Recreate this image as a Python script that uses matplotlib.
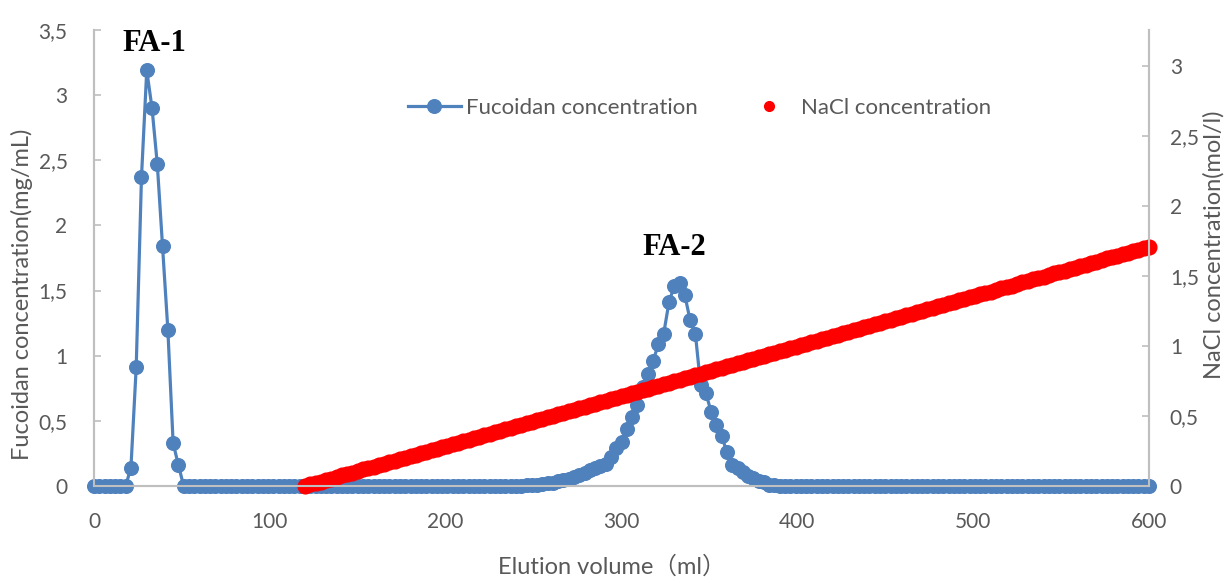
import numpy as np
import matplotlib.pyplot as plt
from matplotlib.ticker import FuncFormatter, MultipleLocator
from matplotlib.lines import Line2D

#%% Daten
# Fucoidan, eine Fraktion alle 3 ml (0 ... 600 ml)
volume = np.arange(0, 601, 3)
fucoidan = ([0] * 7
            + [0.14, 0.91, 2.37, 3.19, 2.9, 2.47, 1.84, 1.2, 0.33, 0.16]
            + [0] * 65
            + [0.005, 0.01, 0.01, 0.015, 0.02, 0.025, 0.035, 0.045, 0.055, 0.07,
               0.085, 0.10, 0.12, 0.135, 0.15, 0.17, 0.22, 0.29, 0.34, 0.44,
               0.53, 0.62, 0.76, 0.86, 0.96, 1.09, 1.17, 1.41, 1.535, 1.555,
               1.465, 1.275, 1.17, 0.775, 0.71, 0.57, 0.47, 0.38, 0.26, 0.16,
               0.14, 0.11, 0.08, 0.06, 0.04, 0.03, 0.01, 0.005]
            + [0] * 71)

# NaCl-Gradient ab 120 ml
volume_nacl = np.arange(120, 601, 3)
nacl = [0.000, 0.011, 0.021, 0.032, 0.043, 0.053, 0.064, 0.075, 0.086, 0.096,
        0.107, 0.118, 0.128, 0.139, 0.150, 0.160, 0.171, 0.182, 0.192, 0.203,
        0.214, 0.224, 0.235, 0.246, 0.257, 0.267, 0.278, 0.289, 0.299, 0.310,
        0.321, 0.331, 0.342, 0.353, 0.363, 0.374, 0.385, 0.395, 0.406, 0.417,
        0.428, 0.438, 0.449, 0.460, 0.470, 0.481, 0.492, 0.502, 0.513, 0.524,
        0.534, 0.545, 0.556, 0.566, 0.577, 0.588, 0.599, 0.609, 0.620, 0.631,
        0.641, 0.652, 0.663, 0.673, 0.684, 0.695, 0.705, 0.716, 0.727, 0.737,
        0.748, 0.759, 0.770, 0.780, 0.791, 0.802, 0.812, 0.823, 0.834, 0.844,
        0.855, 0.866, 0.876, 0.887, 0.898, 0.908, 0.919, 0.930, 0.941, 0.951,
        0.962, 0.973, 0.983, 0.994, 1.005, 1.015, 1.026, 1.037, 1.047, 1.058,
        1.069, 1.079, 1.090, 1.101, 1.112, 1.122, 1.133, 1.144, 1.154, 1.165,
        1.176, 1.186, 1.197, 1.208, 1.218, 1.229, 1.240, 1.250, 1.261, 1.272,
        1.283, 1.293, 1.304, 1.315, 1.325, 1.336, 1.347, 1.357, 1.368, 1.379,
        1.389, 1.400, 1.411, 1.421, 1.432, 1.443, 1.454, 1.464, 1.475, 1.486,
        1.496, 1.507, 1.518, 1.528, 1.539, 1.550, 1.560, 1.571, 1.582, 1.592,
        1.603, 1.614, 1.625, 1.635, 1.646, 1.657, 1.667, 1.678, 1.689, 1.699,
        1.710]

peak_labels = ['FA-1', 'FA-2']
peak_pos = [(34.5, 3.40), (330, 1.83)]

#%% Stil
blue = '#4f81bd'
red = '#ff0000'
gray_txt = '#595959'
gray_ax = '#bfbfbf'
plt.rcParams['font.family'] = ['Lato', 'Noto Sans CJK SC', 'DejaVu Sans']
fs_tick = 15
fs_title = 17

comma = FuncFormatter(lambda v, p: '{:g}'.format(v).replace('.', ','))

fig = plt.figure(figsize=(12.28, 5.79), dpi=100)
ax = fig.add_axes([94/1228, 1-486/579, 1055/1228, 456/579])
ax2 = ax.twinx()

ax.plot(volume, fucoidan, color=blue, lw=2.3, marker='o', ms=9.8,
        mec=blue, mfc=blue, clip_on=False, zorder=3)
ax2.plot(volume_nacl, nacl, ls='none', marker='o', ms=10.6,
         mec=red, mfc=red, clip_on=False)

ax.set_xlim(0, 600)
ax.set_ylim(0, 3.5)
ax2.set_ylim(0, 3.257)
ax.xaxis.set_major_locator(MultipleLocator(100))
ax.yaxis.set_major_locator(MultipleLocator(0.5))
ax2.set_yticks([0, 0.5, 1, 1.5, 2, 2.5, 3])
ax.yaxis.set_major_formatter(comma)
ax2.yaxis.set_major_formatter(comma)

for a in (ax, ax2):
    a.spines['top'].set_visible(False)
    for s in ('left', 'right', 'bottom'):
        a.spines[s].set_color(gray_ax)
        a.spines[s].set_linewidth(1.5)
ax.tick_params(axis='x', length=0, pad=19, labelsize=fs_tick, labelcolor=gray_txt)
ax.tick_params(axis='y', direction='in', length=5, width=1.2, color=gray_ax,
               pad=19, labelsize=fs_tick, labelcolor=gray_txt)
ax2.tick_params(axis='y', direction='in', length=5, width=1.2, color=gray_ax,
                pad=15, labelsize=fs_tick, labelcolor=gray_txt)

# Achsentitel
fig.text(612/1228, 1-566/579, 'Elution volume（ml）', ha='center', va='center',
         fontsize=fs_title, color=gray_txt)
fig.text(22/1228, 1-294/579, 'Fucoidan concentration(mg/mL)', rotation=90,
         ha='center', va='center', fontsize=fs_title, color=gray_txt)
fig.text(1214/1228, 1-245/579, 'NaCl concentration(mol/l)', rotation=90,
         ha='center', va='center', fontsize=fs_title, color=gray_txt)

for lab, (xp, yp) in zip(peak_labels, peak_pos):
    ax.text(xp, yp, lab, ha='center', va='center', fontsize=22,
            fontweight='bold', family='Liberation Serif')

handles = [Line2D([], [], color=blue, lw=2.3, marker='o', ms=9.8),
           Line2D([], [], ls='none', color=red, marker='o', ms=7)]
ax2.legend(handles, ['Fucoidan concentration', 'NaCl concentration'],
           loc='center', bbox_to_anchor=(0.574, 0.829), ncol=2, frameon=False,
           fontsize=16, handlelength=2.4, handletextpad=0.25, columnspacing=2.0,
           labelcolor=gray_txt)

fig.savefig('out.png', dpi=100)
